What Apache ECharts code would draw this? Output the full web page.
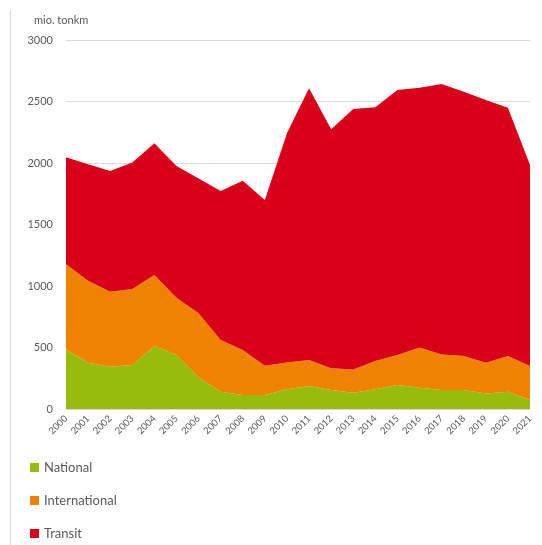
<!DOCTYPE html>
<html>
<head>
<meta charset="utf-8">
<script src="https://cdn.jsdelivr.net/npm/echarts@6/dist/echarts.min.js"></script>
<style>html,body{margin:0;padding:0;background:#fff;}#c{width:542px;height:545px;}</style>
</head>
<body>
<div id="c"></div>
<script>
const years = ['2000','2001','2002','2003','2004','2005','2006','2007','2008','2009','2010','2011','2012','2013','2014','2015','2016','2017','2018','2019','2020','2021'];
const national = [485,376,344,358,512,439,258,141,114,114,160,187,154,133,160,195,173,154,154,127,141,73];
const international = [691,667,610,618,577,466,520,420,366,238,218,211,177,189,230,244,328,290,277,250,290,277];
const transit = [870,946,981,1029,1071,1070,1097,1211,1376,1347,1863,2209,1943,2117,2063,2154,2111,2198,2149,2135,2019,1634];
const seriesNames = ['National','International','Transit'];
const colors = ['#96bd0e','#ef8200','#d9001a'];
const yTicks = [0,500,1000,1500,2000,2500,3000];

const chart = echarts.init(document.getElementById('c'));
const font = 'Lato, "Open Sans", sans-serif';
const dataSets = [national, international, transit];
chart.setOption({
  animation: false,
  color: colors,
  textStyle: {fontFamily: font},
  title: {text: 'mio. tonkm', left: 29, top: 10, textStyle: {fontSize: 11, fontWeight: 'normal', color: '#595959', fontFamily: font}},
  grid: {left: 66, right: 12, top: 40, bottom: 136},
  legend: {
    orient: 'vertical', left: 25, top: 456, height: 140, itemGap: 20, itemWidth: 9, itemHeight: 9, icon: 'rect',
    textStyle: {fontSize: 13, color: '#595959', fontFamily: font}, itemStyle: {borderWidth: 0},
    data: seriesNames
  },
  xAxis: {
    type: 'category', data: years, boundaryGap: false,
    axisLine: {lineStyle: {color: '#d9d9d9'}}, axisTick: {show: false},
    axisLabel: {rotate: 45, fontSize: 9.5, color: '#595959', margin: 8, interval: 0}
  },
  yAxis: {
    type: 'value', min: yTicks[0], max: yTicks[yTicks.length-1], interval: 500,
    axisLine: {show: false}, axisTick: {show: false},
    axisLabel: {fontSize: 11, color: '#595959', margin: 13, formatter: v => String(v)},
    splitLine: {lineStyle: {color: '#d9d9d9'}}
  },
  series: seriesNames.map((n, i) => ({
    name: n, type: 'line', stack: 'total', data: dataSets[i],
    symbol: 'none', lineStyle: {width: 0}, areaStyle: {opacity: 1, color: colors[i]}
  })),
  graphic: [{type: 'line', shape: {x1: 10.5, y1: 10, x2: 10.5, y2: 545}, style: {stroke: '#d9d9d9', lineWidth: 1}}]
});
</script>
</body>
</html>
